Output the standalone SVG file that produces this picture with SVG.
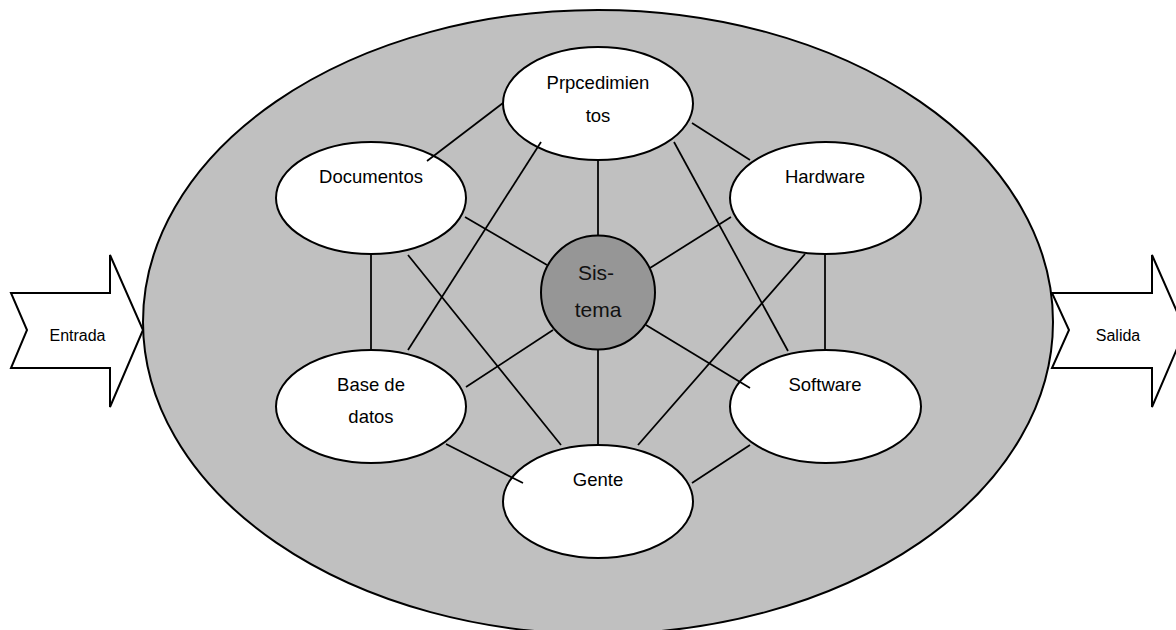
<svg xmlns="http://www.w3.org/2000/svg" width="1176" height="630" viewBox="0 0 1176 630">
  <style>
    .node { fill: #ffffff; stroke: #000000; stroke-width: 2; }
    .core { fill: #969696; stroke: #000000; stroke-width: 2; }
    .frame { fill: #c0c0c0; stroke: #000000; stroke-width: 2; }
    .flow { fill: #ffffff; stroke: #000000; stroke-width: 2; stroke-linejoin: miter; }
    .link { stroke: #000000; stroke-width: 1.75; fill: none; }
    text { font-family: "Liberation Sans", Arial, sans-serif; fill: #000000; text-anchor: middle; }
    .lbl { font-size: 18.5px; }
    .core-lbl { font-size: 21px; fill: #111111; }
    .io-lbl { font-size: 16px; }
  </style>

  <rect width="1176" height="630" fill="#ffffff"/>

  <!-- system boundary -->
  <ellipse class="frame" cx="598" cy="322" rx="455" ry="312"/>

  <!-- input arrow -->
  <g id="entrada">
    <polygon class="flow" points="11,293 110,293 110,255 143,330 110,407 110,368 11,368 27,330"/>
    <text class="io-lbl" x="77.5" y="341">Entrada</text>
  </g>

  <!-- output arrow -->
  <g id="salida">
    <polygon class="flow" points="1052,293 1152,293 1152,255 1185,330 1152,407 1152,368 1052,368 1069,330"/>
    <text class="io-lbl" x="1118" y="341">Salida</text>
  </g>

  <!-- components -->
  <g id="procedimientos">
    <ellipse class="node" cx="598" cy="103.5" rx="95" ry="56.5"/>
    <text class="lbl" x="598" y="89">Prpcedimien</text>
    <text class="lbl" x="598" y="121.5">tos</text>
  </g>
  <g id="documentos">
    <ellipse class="node" cx="371" cy="198" rx="95" ry="56"/>
    <text class="lbl" x="371" y="183">Documentos</text>
  </g>
  <g id="hardware">
    <ellipse class="node" cx="825.5" cy="198" rx="95.5" ry="56"/>
    <text class="lbl" x="825" y="183">Hardware</text>
  </g>
  <g id="base-datos">
    <ellipse class="node" cx="371" cy="406.5" rx="95" ry="56.5"/>
    <text class="lbl" x="371" y="391">Base de</text>
    <text class="lbl" x="371" y="423">datos</text>
  </g>
  <g id="software">
    <ellipse class="node" cx="825.5" cy="406.5" rx="95.5" ry="56.5"/>
    <text class="lbl" x="825" y="391">Software</text>
  </g>
  <g id="gente">
    <ellipse class="node" cx="598" cy="501.5" rx="95" ry="56.5"/>
    <text class="lbl" x="598" y="486">Gente</text>
  </g>
  <g id="sistema">
    <circle class="core" cx="598" cy="292.5" r="57"/>
    <text class="core-lbl" x="596" y="280">Sis-</text>
    <text class="core-lbl" x="598" y="317">tema</text>
  </g>

  <!-- connectors -->
  <g id="connectors">
    <line class="link" x1="427" y1="161" x2="503" y2="103"/>
    <line class="link" x1="692" y1="123" x2="750" y2="160"/>
    <line class="link" x1="598" y1="160" x2="598" y2="236"/>
    <line class="link" x1="541" y1="142" x2="408" y2="350"/>
    <line class="link" x1="674" y1="142" x2="788" y2="351"/>
    <line class="link" x1="371" y1="254" x2="371" y2="350"/>
    <line class="link" x1="465" y1="217" x2="547" y2="265"/>
    <line class="link" x1="408" y1="255" x2="561" y2="445"/>
    <line class="link" x1="553" y1="330" x2="466" y2="387"/>
    <line class="link" x1="598" y1="349" x2="598" y2="445"/>
    <line class="link" x1="650" y1="268" x2="731" y2="217"/>
    <line class="link" x1="646" y1="325" x2="750" y2="388"/>
    <line class="link" x1="825" y1="254" x2="825" y2="350"/>
    <line class="link" x1="805" y1="254" x2="638" y2="445"/>
    <line class="link" x1="692" y1="483" x2="750" y2="445"/>
    <line class="link" x1="446" y1="444" x2="523" y2="483"/>
  </g>
</svg>
